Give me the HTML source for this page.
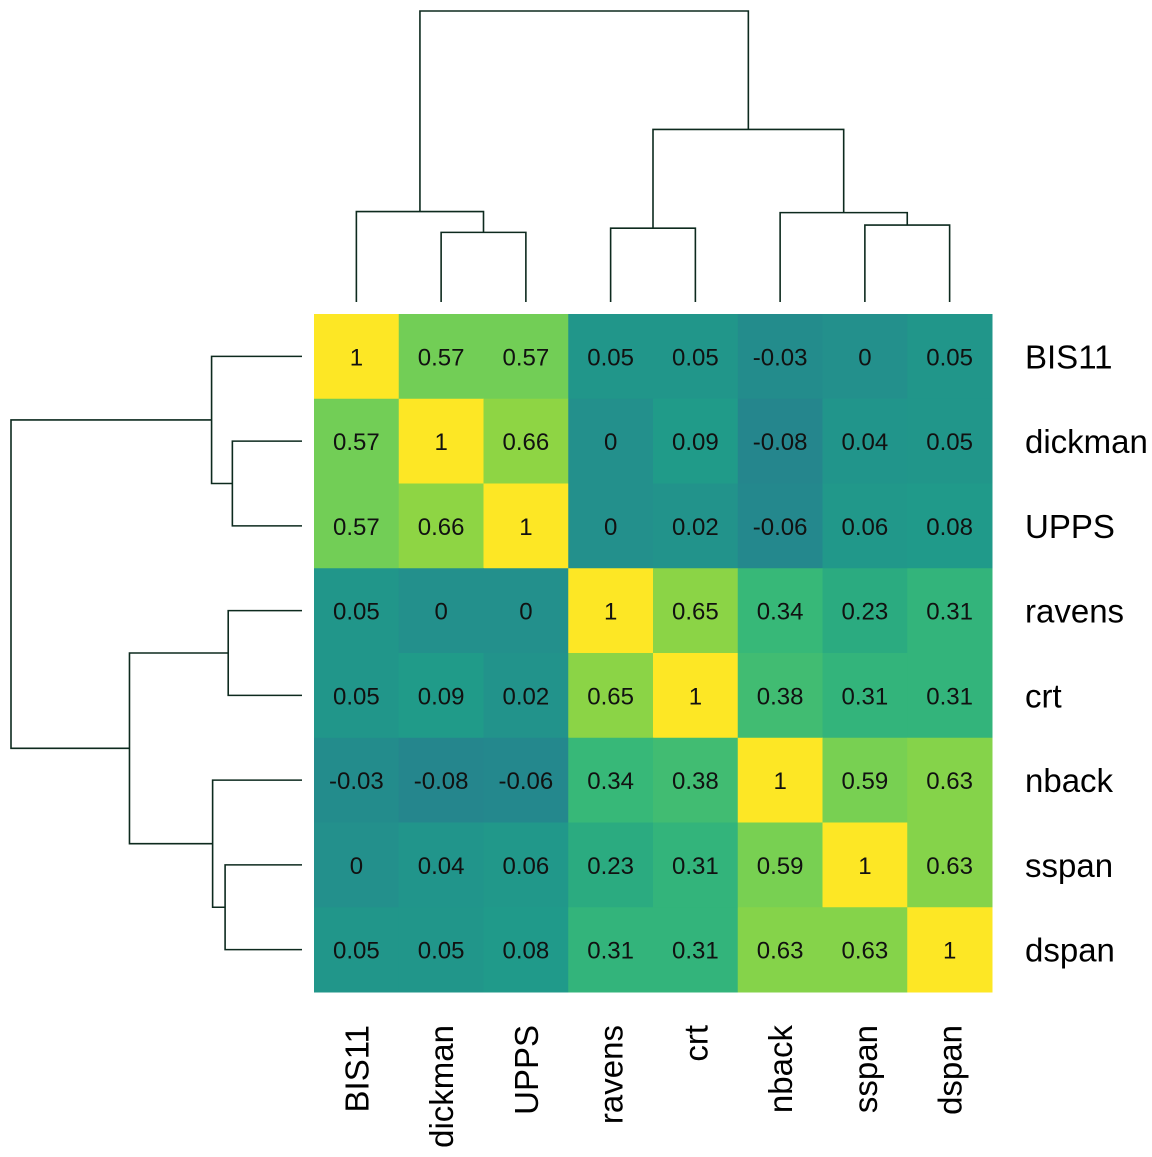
<!DOCTYPE html>
<html><head><meta charset="utf-8"><style>
body{margin:0;background:#fff;width:1152px;height:1152px;overflow:hidden}
svg{font-family:"Liberation Sans",Arial,sans-serif}
</style></head><body>
<svg id="chart" width="1152" height="1152">
<g id="cells"></g>
<g id="dend" stroke="#0d2a1e" stroke-width="1.6" fill="none"></g>
<g id="labels"></g>
</svg>
<script>
const variables = ["BIS11","dickman","UPPS","ravens","crt","nback","sspan","dspan"];
const values = [
[1,0.57,0.57,0.05,0.05,-0.03,0,0.05],
[0.57,1,0.66,0,0.09,-0.08,0.04,0.05],
[0.57,0.66,1,0,0.02,-0.06,0.06,0.08],
[0.05,0,0,1,0.65,0.34,0.23,0.31],
[0.05,0.09,0.02,0.65,1,0.38,0.31,0.31],
[-0.03,-0.08,-0.06,0.34,0.38,1,0.59,0.63],
[0,0.04,0.06,0.23,0.31,0.59,1,0.63],
[0.05,0.05,0.08,0.31,0.31,0.63,0.63,1]
];
const labelsTxt = [
["1","0.57","0.57","0.05","0.05","-0.03","0","0.05"],
["0.57","1","0.66","0","0.09","-0.08","0.04","0.05"],
["0.57","0.66","1","0","0.02","-0.06","0.06","0.08"],
["0.05","0","0","1","0.65","0.34","0.23","0.31"],
["0.05","0.09","0.02","0.65","1","0.38","0.31","0.31"],
["-0.03","-0.08","-0.06","0.34","0.38","1","0.59","0.63"],
["0","0.04","0.06","0.23","0.31","0.59","1","0.63"],
["0.05","0.05","0.08","0.31","0.31","0.63","0.63","1"]
];
const merges = [[1,2,0.335],[0,8,0.435],[3,4,0.355],[6,7,0.37],[5,11,0.43],[10,12,0.83],[9,13,1.4]];
const NS="http://www.w3.org/2000/svg";
const x0=314,y0=314,size=678,n=8,cw=size/n;
const pos=i=>x0+cw*(i+0.5);
const vir=[[68,1,84],[72,40,120],[62,74,137],[49,104,142],[38,130,142],[31,158,137],[53,183,121],[109,205,89],[180,222,44],[253,231,37]];
function color(v){let t=(v+1)/2*(vir.length-1);let i=Math.min(Math.floor(t),vir.length-2);let f=t-i;
 const c=vir[i].map((a,k)=>Math.round(a+(vir[i+1][k]-a)*f));return `rgb(${c})`;}
function el(tag,attrs,parent){const e=document.createElementNS(NS,tag);for(const k in attrs)e.setAttribute(k,attrs[k]);parent.appendChild(e);return e;}
const cells=document.getElementById('cells');
for(let r=0;r<n;r++)for(let c=0;c<n;c++){
 const rc=el('rect',{x:x0+c*cw,y:y0+r*cw,width:cw+0.5,height:cw+0.5,fill:color(values[r][c])},cells);
 
 
 const t=el('text',{x:pos(c),y:pos(r)+9,'text-anchor':'middle','font-size':24,fill:'#111'},cells);
 t.textContent=labelsTxt[r][c];
 
 
}
const lab=document.getElementById('labels');
variables.forEach((v,i)=>{
 const t=el('text',{x:1025,y:pos(i)+12,'font-size':33,fill:'#000'},lab);t.textContent=v;
 
 
 const u=el('text',{x:0,y:0,'font-size':33,fill:'#000','text-anchor':'end',transform:`translate(${pos(i)+12},1025) rotate(-90)`},lab);u.textContent=v;
 
 
});
const dend=document.getElementById('dend');
const leafEdge=302, rootEdge=11, maxH=1.4;
const hpos=h=>leafEdge-(h/maxH)*(leafEdge-rootEdge);
const nodeX=[],nodeH=[];
for(let i=0;i<n;i++){nodeX[i]=pos(i);nodeH[i]=0;}
merges.forEach((m,k)=>{
 const id=n+k;nodeX[id]=(nodeX[m[0]]+nodeX[m[1]])/2;nodeH[id]=m[2];
 const a=nodeX[m[0]],b=nodeX[m[1]],ya=hpos(nodeH[m[0]]),yb=hpos(nodeH[m[1]]),y=hpos(m[2]);
 const p1=el('path',{d:`M${a},${ya}V${y}H${b}V${yb}`},dend);
 
 
 const p2=el('path',{d:`M${ya},${a}H${y}V${b}H${yb}`},dend);
 
 
});
</script>
</body></html>
